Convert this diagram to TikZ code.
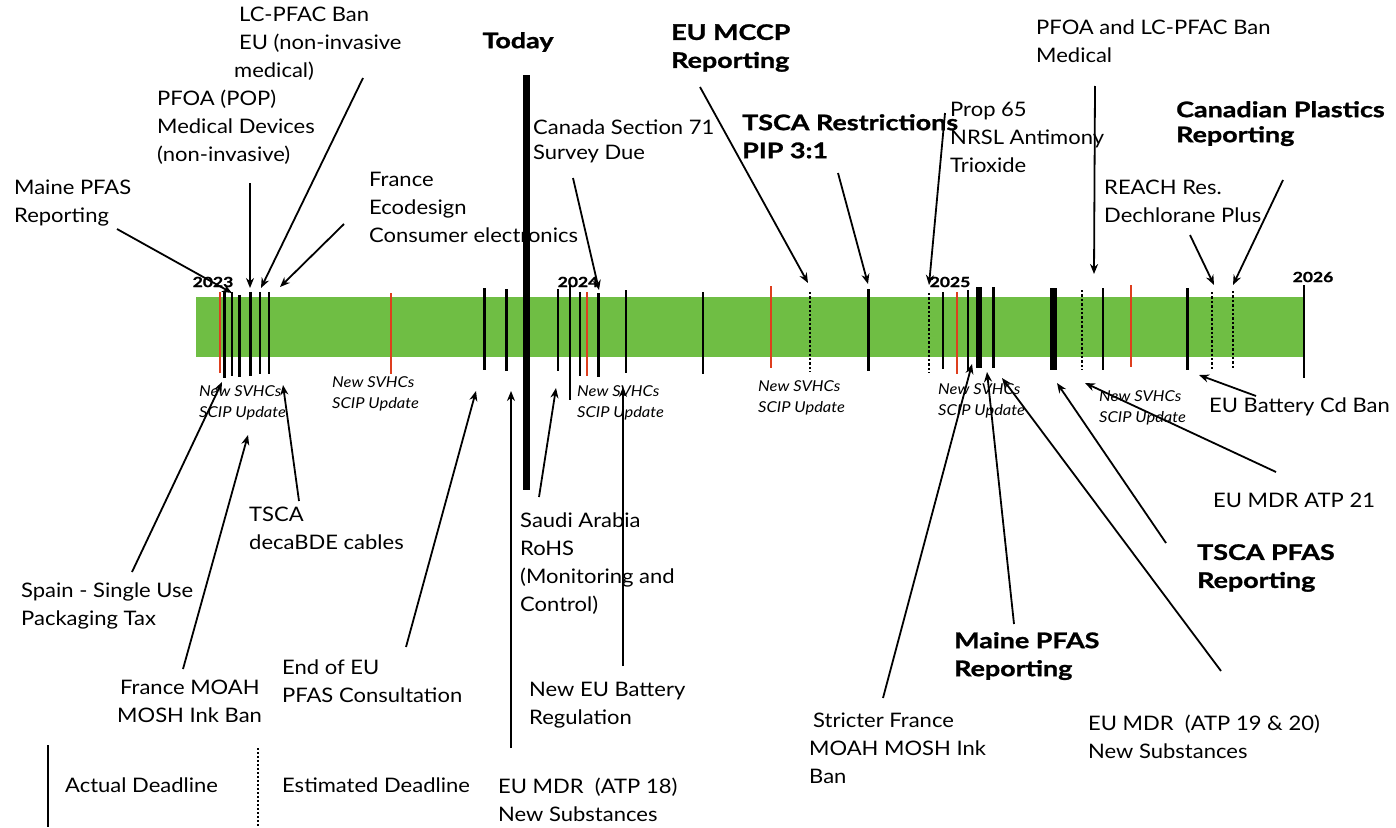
\documentclass[tikz,border=0pt]{standalone}
\usepackage{fontspec}
\setmainfont{Lato}[FakeStretch=1.1]
\newfontfamily\heavyfont{Lato}[FakeStretch=1.25,FakeBold=1.2]
\usetikzlibrary{arrows.meta}
\definecolor{bargreen}{RGB}{111,190,68}
\definecolor{tickred}{RGB}{222,62,30}
\tikzset{
  lbl/.style={anchor=north west, inner sep=0pt, align=left, font=\fontsize{20}{28}\selectfont},
  blbl/.style={anchor=north west, inner sep=0pt, align=left, font=\heavyfont\fontsize{21.5}{28}\selectfont\bfseries},
  svhc/.style={anchor=north west, inner sep=0pt, align=left, font=\fontsize{15}{21}\selectfont\itshape},
  yr/.style={inner sep=0pt, font=\heavyfont\fontsize{14}{14}\selectfont\bfseries},
  tk/.style={line width=2.4pt},
  rtk/.style={line width=2pt, draw=tickred},
  dtk/.style={line width=2.2pt, dash pattern=on 2.4pt off 2pt},
  arr/.style={line width=1.8pt, -{Stealth[length=10pt,width=8pt]}},
}
\begin{document}
\begin{tikzpicture}[x=1pt,y=-1pt]
\useasboundingbox (0,0) rectangle (1396,827);
% bar
\fill[bargreen] (196,297) rectangle (1305,357);
% ticks
\foreach \x/\a/\b in {224.3/292/378,231.7/292/376,239.3/295/377,250.3/292/376,260/292/374,269/292/374,
  484.3/288/370,506.3/289/371,557.7/289/371,570/285/400,580/292/376,598.3/293/377,626/290/373,702.7/292/374,
  868.3/289/371,942.7/292/369,968/290/371,993.3/287/368,1102.7/288/370,1187.3/288/370,1304/285/378}
  \draw[tk] (\x,\a) -- (\x,\b);
\foreach \x/\a/\b in {220/292/373,390.7/293/374,586.7/292/376,771/286/368,956.7/292/374,1130.7/285/367}
  \draw[rtk] (\x,\a) -- (\x,\b);
\foreach \x/\a/\b in {810/292/372,929.3/293/373,1081.7/290/370,1212.3/292/370,1232.7/291/370}
  \draw[dtk] (\x,\a) -- (\x,\b);
\draw[line width=6pt] (979,287) -- (979,368);
\draw[line width=7pt] (1053.3,288) -- (1053.3,370);
% today
\draw[line width=7pt] (526.7,75) -- (526.7,490);
\node[font=\heavyfont\fontsize{21.5}{21.5}\selectfont\bfseries, inner sep=0pt] (today) at (518,42) {Today};
% years
\node[yr] (y23) at (213,282) {2023};
\node[yr] (y24) at (578,282) {2024};
\node[yr] (y25) at (950,282) {2025};
\node[yr] (y26) at (1313,277) {2026};
% SVHC labels
\node[svhc] (s1) at (199,385) {New SVHCs\\SCIP Update};
\node[svhc] (s2) at (332,376) {New SVHCs\\SCIP Update};
\node[svhc] (s3) at (577,385) {New SVHCs\\SCIP Update};
\node[svhc] (s4) at (758,380) {New SVHCs\\SCIP Update};
\node[svhc] (s5) at (938,383) {New SVHCs\\SCIP Update};
\node[svhc] (s6) at (1099,390) {New SVHCs\\SCIP Update};
% top labels
\node[lbl] (maine1) at (14,180) {Maine PFAS\\Reporting};
\node[lbl] (pfoa) at (157,90) {PFOA (POP)\\Medical Devices\\(non-invasive)};
\node[lbl] (lcpfac) at (234,7) {\hspace*{5pt}LC-PFAC Ban\\\hspace*{5pt}EU (non-invasive\\medical)};
\node[lbl] (france) at (369,172) {France\\Ecodesign\\Consumer electronics};
\node[lbl, font=\fontsize{20}{25}\selectfont] (canada) at (533,120) {Canada Section 71\\Survey Due};
\node[blbl] (mccp) at (671,24) {EU MCCP\\Reporting};
\node[blbl] (tscar) at (742,114) {TSCA Restrictions\\PIP 3:1};
\node[lbl] (prop) at (950,102) {Prop 65\\NRSL Antimony\\Trioxide};
\node[lbl] (pfoamed) at (1036,20) {PFOA and LC-PFAC Ban\\Medical};
\node[blbl, font=\heavyfont\fontsize{21.5}{25}\selectfont\bfseries] (canplast) at (1176,101) {Canadian Plastics\\Reporting};
\node[lbl] (reach) at (1104,180) {REACH Res.\\Dechlorane Plus};
% bottom labels
\node[lbl] (spain) at (21,583) {Spain - Single Use\\Packaging Tax};
\node[lbl] (franceink) at (117,680) {\hspace*{3pt}France MOAH\\MOSH Ink Ban};
\node[lbl] (tscadeca) at (249,507) {TSCA\\decaBDE cables};
\node[lbl] (endeu) at (282,660) {End of EU\\PFAS Consultation};
\node[lbl] (mdr18) at (498,778) {EU MDR~~(ATP 18)\\New Substances};
\node[lbl] (saudi) at (520,513) {Saudi Arabia\\RoHS\\(Monitoring and\\Control)};
\node[lbl] (battery) at (529,682) {New EU Battery\\Regulation};
\node[lbl] (stricter) at (809,713) {\hspace*{4pt}Stricter France\\MOAH MOSH Ink\\Ban};
\node[blbl] (maine2) at (954,632) {Maine PFAS\\Reporting};
\node[lbl] (mdr1920) at (1088,715) {EU MDR~~(ATP 19 \& 20)\\New Substances};
\node[blbl] (tscapfas) at (1197,544) {TSCA PFAS\\Reporting};
\node[lbl] (atp21) at (1213,493) {EU MDR ATP 21};
\node[lbl] (cdban) at (1209,398) {EU Battery Cd Ban};
% legend
\coordinate (lega) at (48,745);
\coordinate (legb) at (48,827);
\coordinate (legc) at (257.6,748);
\coordinate (legd) at (257.6,827);
\draw[line width=2.4pt] (lega) -- (legb);
\draw[line width=2.2pt, dash pattern=on 2pt off 2pt] (legc) -- (legd);
\node[lbl] (actual) at (65,778) {Actual Deadline};
\node[lbl] (estim) at (282,778) {Estimated Deadline};
% arrow endpoints
\foreach \n/\x/\y in {
  t1/117/229, h1/232/293,
  t2/250/183, h2/250/288,
  t3/363/78, h3/261/288,
  t4/344/224, h4/280/287,
  t5/573/178, h5/599/290,
  t6/700/87, h6/808/283,
  t7/838/173, h7/868/284,
  t8/945/113, h8/929/285,
  t9/1095/86, h9/1094/274,
  t10/1283/180, h10/1233/285,
  t11/1190/235, h11/1214/285,
  t12/132/572, h12/222/382,
  t13/183/669, h13/248/435,
  t14/299/501, h14/283/385,
  t15/406/647, h15/476/391,
  t16/511/748, h16/511/391,
  t17/539/497, h17/556/388,
  t18/623/666, h18/623/387,
  t19/883/698, h19/972/364,
  t20/1014/624, h20/987/372,
  t21/1221/671, h21/1002/378,
  t22/1166/543, h22/1057/383,
  t23/1276/472, h23/1085/383,
  t24/1256/396, h24/1199/375}
  \coordinate (\n) at (\x,\y);
\foreach \i in {1,...,24}
  \draw[arr] (t\i) -- (h\i);
\end{tikzpicture}
\end{document}
